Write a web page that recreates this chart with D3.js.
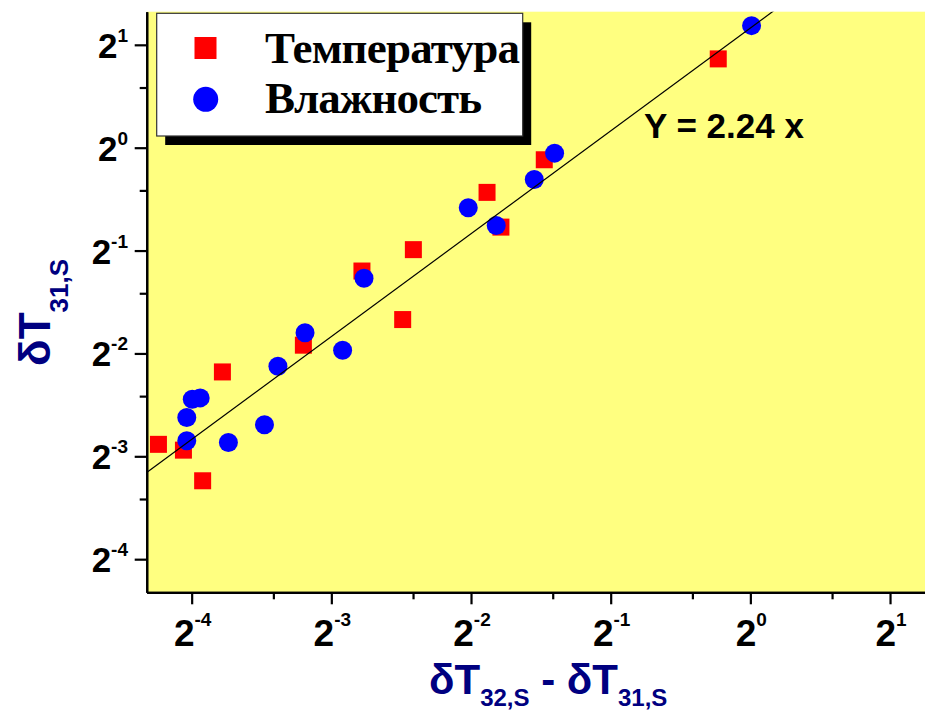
<!DOCTYPE html>
<html><head><meta charset="utf-8">
<script src="https://cdn.jsdelivr.net/npm/d3@7"></script>
<style>body{margin:0;background:#fff}svg{display:block}</style>
</head><body>
<svg id="chart" width="925" height="713"></svg>
<script>
// ---- data ----
const tempX = [0.0530, 0.0600, 0.0660, 0.0728, 0.1088, 0.1455, 0.1781, 0.1878, 0.2707, 0.2900, 0.3596, 0.8527];
const tempY = [0.1355, 0.1303, 0.1060, 0.2207, 0.2643, 0.4356, 0.3141, 0.5031, 0.7400, 0.5856, 0.9219, 1.819];
const humX  = [0.0610, 0.0610, 0.0627, 0.0652, 0.0750, 0.0897, 0.0959, 0.1097, 0.1322, 0.1470, 0.2466, 0.2833, 0.3422, 0.3785, 1.006];
const humY  = [0.1388, 0.1624, 0.1837, 0.1853, 0.1372, 0.1546, 0.2293, 0.2875, 0.2555, 0.4147, 0.6672, 0.5923, 0.8073, 0.9639, 2.276];
const fitSlope = 2.24;
const seriesNames = ["Температура", "Влажность"];
const fitLabel = "Y = 2.24 x";
const xTickExponents = [-4, -3, -2, -1, 0, 1];
const yTickExponents = [-4, -3, -2, -1, 0, 1];
const xMinorTicks = [0.09375, 0.1875, 0.375, 0.75, 1.5];
const yMinorTicks = [0.09375, 0.1875, 0.375, 0.75, 1.5];
const xDomain = [0.05, 2.5];
const yDomain = [0.05, 2.5];

// ---- layout ----
const L = 146.7, R = 935, T = 11.7, B = 592.3;
const svg = d3.select("#chart");
const x = d3.scaleLog().base(2).domain(xDomain).range([L, R]);
const y = d3.scaleLog().base(2).domain(yDomain).range([B, T]);
const sans = "'Liberation Sans', Arial, sans-serif";
const serif = "'Liberation Serif', 'Times New Roman', serif";
const navy = "#000080";

svg.append("defs").append("clipPath").attr("id", "plotclip")
  .append("rect").attr("x", L).attr("y", T).attr("width", R - L).attr("height", B - T);

svg.append("rect").attr("x", L).attr("y", T).attr("width", R - L).attr("height", B - T)
  .attr("fill", "#ffff80");

const plot = svg.append("g").attr("clip-path", "url(#plotclip)");

// red squares
const sq = 17;
plot.selectAll("rect.temp").data(tempX.map((v, i) => [v, tempY[i]])).join("rect")
  .attr("class", "temp")
  .attr("x", d => x(d[0]) - sq / 2).attr("y", d => y(d[1]) - sq / 2)
  .attr("width", sq).attr("height", sq).attr("fill", "#ff0000");

// blue circles
plot.selectAll("circle.hum").data(humX.map((v, i) => [v, humY[i]])).join("circle")
  .attr("class", "hum")
  .attr("cx", d => x(d[0])).attr("cy", d => y(d[1])).attr("r", 9.5).attr("fill", "#0000ff");

// fit line
const fitXs = [xDomain[0], xDomain[1]];
plot.append("path")
  .attr("d", d3.line().x(d => x(d)).y(d => y(fitSlope * d))(fitXs))
  .attr("stroke", "#000").attr("stroke-width", 1.2).attr("fill", "none");

// ---- axes ----
function styleAxis(g) {
  g.selectAll("path.domain").attr("stroke", "#000").attr("stroke-width", 2.2);
  g.selectAll(".tick line").attr("stroke", "#000").attr("stroke-width", 2.2);
  g.selectAll(".tick text").remove();
}
svg.append("g").attr("transform", `translate(0,${B})`)
  .call(d3.axisBottom(x).tickValues(xMinorTicks).tickSize(7).tickSizeOuter(0).tickFormat(""))
  .call(styleAxis);
svg.append("g").attr("transform", `translate(0,${B})`)
  .call(d3.axisBottom(x).tickValues(xTickExponents.map(e => Math.pow(2, e))).tickSize(12).tickSizeOuter(0).tickFormat(""))
  .call(styleAxis);
svg.append("g").attr("transform", `translate(${L},0)`)
  .call(d3.axisLeft(y).tickValues(yMinorTicks).tickSize(7).tickSizeOuter(0).tickFormat(""))
  .call(styleAxis);
svg.append("g").attr("transform", `translate(${L},0)`)
  .call(d3.axisLeft(y).tickValues(yTickExponents.map(e => Math.pow(2, e))).tickSize(12).tickSizeOuter(0).tickFormat(""))
  .call(styleAxis);

// tick labels
xTickExponents.forEach(e => {
  const t = svg.append("text").attr("x", x(Math.pow(2, e)) + 1).attr("y", B + 54)
    .attr("text-anchor", "middle").attr("font-family", sans).attr("font-weight", "bold")
    .attr("font-size", 37).attr("fill", "#000");
  t.append("tspan").text("2");
  t.append("tspan").attr("font-size", 19).attr("dy", -20).text(String(e));
});
yTickExponents.forEach(e => {
  const t = svg.append("text").attr("x", 128).attr("y", y(Math.pow(2, e)) + 13)
    .attr("text-anchor", "end").attr("font-family", sans).attr("font-weight", "bold")
    .attr("font-size", 35).attr("fill", "#000");
  t.append("tspan").text("2");
  t.append("tspan").attr("font-size", 19).attr("dy", -16).text(String(e));
});

// axis titles
const xt = svg.append("text").attr("x", 429).attr("y", 694)
  .attr("font-family", sans).attr("font-weight", "bold").attr("font-size", 42).attr("fill", navy);
xt.append("tspan").text("δT");
xt.append("tspan").attr("font-size", 24).attr("dy", 12).text("32,S");
xt.append("tspan").attr("dy", -12).text(" - δT");
xt.append("tspan").attr("font-size", 24).attr("dy", 12).text("31,S");

const yt = svg.append("text").attr("transform", "translate(50,366) rotate(-90)")
  .attr("font-family", sans).attr("font-weight", "bold").attr("font-size", 44).attr("fill", navy);
yt.append("tspan").text("δT");
yt.append("tspan").attr("font-size", 26).attr("dy", 18).text("31,S");

// fit label
svg.append("text").attr("x", 644).attr("y", 138.3)
  .attr("font-family", sans).attr("font-weight", "bold").attr("font-size", 35).attr("fill", "#000")
  .text(fitLabel);

// ---- legend ----
const lg = svg.append("g");
lg.append("rect").attr("x", 165.2).attr("y", 22.3).attr("width", 366).attr("height", 122.7).attr("fill", "#000");
lg.append("rect").attr("x", 156.7).attr("y", 13.3).attr("width", 366).attr("height", 122.7)
  .attr("fill", "#fff").attr("stroke", "#333").attr("stroke-width", 1.2);
lg.append("rect").attr("x", 194.5).attr("y", 37).attr("width", 22).attr("height", 22).attr("fill", "#ff0000");
lg.append("circle").attr("cx", 205.7).attr("cy", 99.3).attr("r", 12.5).attr("fill", "#0000ff");
lg.append("text").attr("x", 265).attr("y", 63.3).attr("font-family", serif).attr("font-weight", "bold")
  .attr("font-size", 45).attr("textLength", 255).attr("lengthAdjust", "spacing").text(seriesNames[0]);
lg.append("text").attr("x", 265).attr("y", 112.7).attr("font-family", serif).attr("font-weight", "bold")
  .attr("font-size", 45).attr("textLength", 217).attr("lengthAdjust", "spacing").text(seriesNames[1]);
</script>
</body></html>
